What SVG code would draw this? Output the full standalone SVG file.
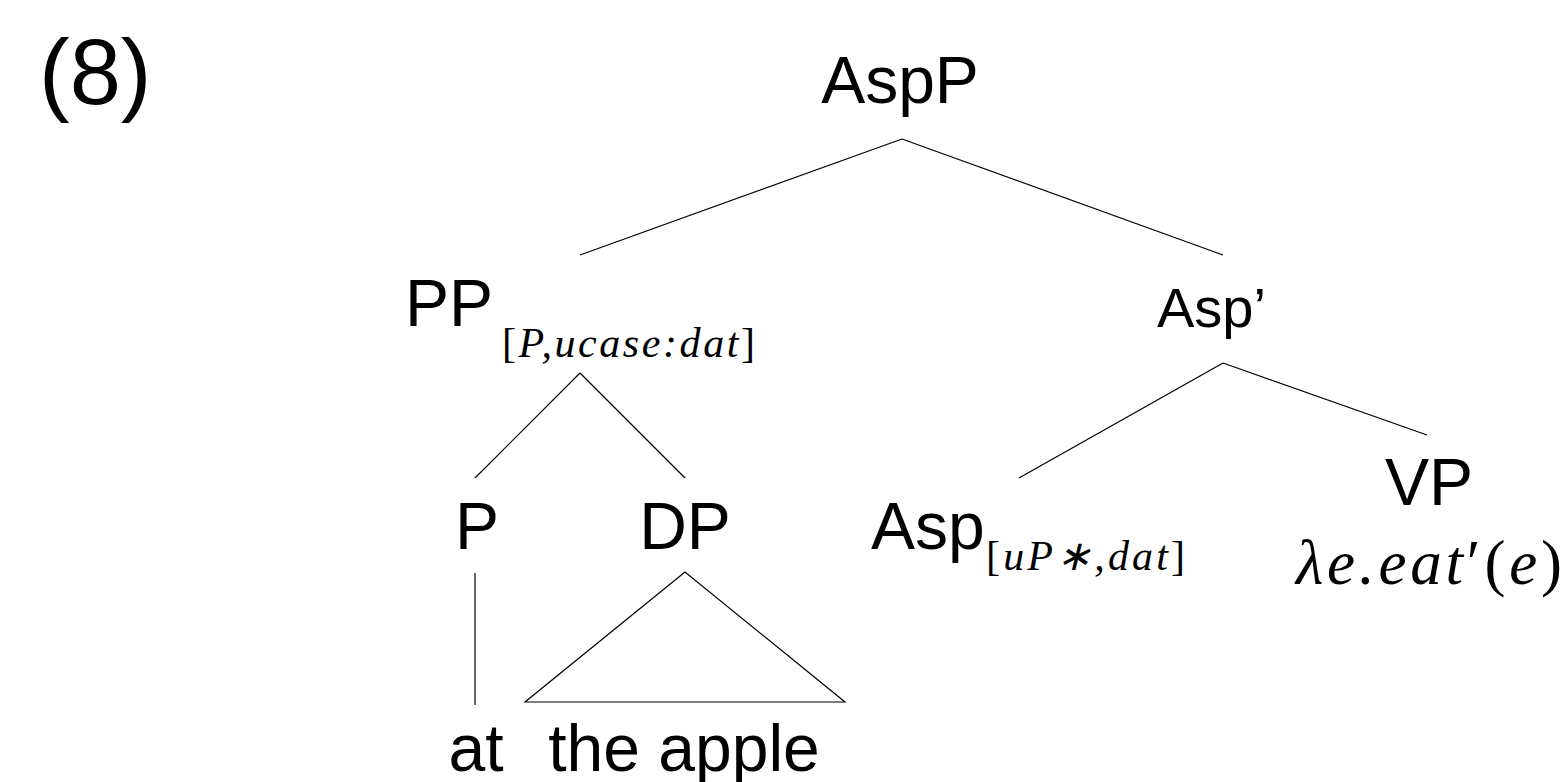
<svg xmlns="http://www.w3.org/2000/svg" width="1566" height="782" viewBox="0 0 1566 782">
<style>
.lbl{font-family:"Liberation Sans",Arial,sans-serif;font-size:66px;fill:#000}
.num{font-family:"Liberation Sans",Arial,sans-serif;font-size:92px;fill:#000}
.sub{font-family:"Liberation Serif","Times New Roman",serif;font-style:italic;font-size:42px;fill:#000}
.up{font-style:normal}
.math{font-family:"Liberation Serif","Times New Roman",serif;font-style:italic;font-size:63px;fill:#000}
.edge{stroke:#000;stroke-width:1.2;fill:none}
</style>
<rect width="1566" height="782" fill="#fff"/>
<text class="num" x="39" y="104">(8)</text>
<g id="connectors">
<line class="edge" x1="902" y1="139" x2="580" y2="255"/>
<line class="edge" x1="902" y1="139" x2="1223" y2="255"/>
<line class="edge" x1="580" y1="373" x2="475" y2="478"/>
<line class="edge" x1="580" y1="373" x2="685" y2="478"/>
<line class="edge" x1="1223" y1="363" x2="1019" y2="478"/>
<line class="edge" x1="1223" y1="363" x2="1427" y2="435"/>
<line class="edge" x1="475" y1="573" x2="475" y2="705"/>
<polygon class="edge" points="685,572 525,702 845,702"/>
</g>
<g id="node-AspP"><text class="lbl" x="900" y="103" text-anchor="middle">AspP</text></g>
<g id="node-PP"><text class="lbl" x="405" y="326">PP</text><text class="sub" x="502" y="357" textLength="253" lengthAdjust="spacing"><tspan class="up">[</tspan>P,ucase:dat<tspan class="up">]</tspan></text></g>
<g id="node-AspBar"><text class="lbl" x="1157" y="327" style="font-size:56px">Asp’</text></g>
<g id="node-P"><text class="lbl" x="477" y="549" text-anchor="middle">P</text></g>
<g id="node-DP"><text class="lbl" x="685" y="549" text-anchor="middle">DP</text></g>
<g id="node-Asp"><text class="lbl" x="871" y="549">Asp</text><text class="sub" x="986" y="570" textLength="199" lengthAdjust="spacing"><tspan class="up">[</tspan>uP∗,dat<tspan class="up">]</tspan></text></g>
<g id="node-VP"><text class="lbl" x="1429" y="505" text-anchor="middle">VP</text><text class="math" x="1296" y="584" textLength="266" lengthAdjust="spacing">λe.eat<tspan class="up">′(</tspan>e<tspan class="up">)</tspan></text></g>
<g id="node-at"><text class="lbl" x="476" y="771" text-anchor="middle">at</text></g>
<g id="node-theapple"><text class="lbl" x="684" y="771" text-anchor="middle">the apple</text></g>
</svg>
